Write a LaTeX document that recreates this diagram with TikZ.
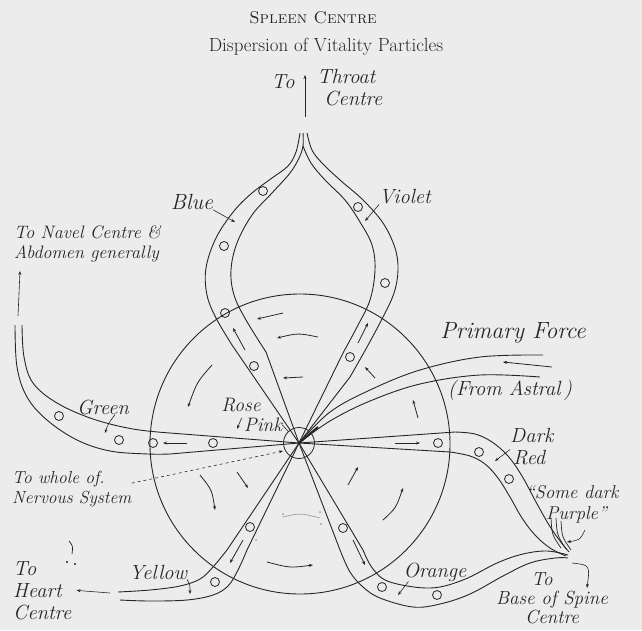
\documentclass[tikz,border=0pt]{standalone}
\usepackage{fontspec}
\usepackage{xcolor}
\usetikzlibrary{arrows.meta, calc}

\definecolor{paper}{HTML}{ECECEC}
\definecolor{ink}{HTML}{262626}

\begin{document}
\begin{tikzpicture}[
    x=1pt, y=-1pt,
    every node/.style={text=ink, inner sep=0pt},
    hand/.style={font=\fontsize{20.5}{22}\selectfont\itshape},
    phrase/.style={font=\fontsize{17.5}{20}\selectfont\itshape},
    chan/.style={draw=ink, line width=0.9pt},
    bead/.style={draw=ink, line width=0.8pt},
    flow/.style={-{Stealth[length=4pt, width=3pt]}, draw=ink, line width=0.8pt},
    lead/.style={-{Stealth[length=4pt, width=3pt]}, draw=ink, line width=0.6pt},
    faint/.style={draw=ink!45, line width=0.7pt},
]

% Paper
\fill[paper] (0,0) rectangle (642,630);
\useasboundingbox (0,0) rectangle (642,630);

% Title
\node[font=\fontsize{17}{19}\selectfont\scshape] (title) at (313,18) {Spleen Centre};
\node[font=\fontsize{19}{21}\selectfont] (subtitle) at (326,47) {Dispersion of Vitality Particles};

% Spleen disc and hub
\coordinate (spleen) at (299,443);
\draw[chan] (300,444) circle[radius=150pt];
\node[draw=ink, line width=0.8pt, circle, minimum size=31pt] (hub) at (spleen) {};
\draw[ink, line width=2pt] (spleen) -- (318,427);

% Blue channel
\draw[chan] (spleen) -- plot[smooth, tension=0.6] coordinates {(232,345) (216,318) (207,295) (206,268) (216,238) (234,211) (252,193) (272,178) (288,166) (296,152) (300,133)};
\draw[chan] (spleen) -- plot[smooth, tension=0.6] coordinates {(266,352) (246,320) (234,295) (231,270) (237,243) (252,215) (272,193) (290,173) (299,158) (303,146) (303,133)};

% Violet channel
\draw[chan] (spleen) -- plot[smooth, tension=0.6] coordinates {(350,377) (367,347) (383,317) (394,293) (398,270) (395,248) (383,223) (363,200) (340,180) (322,163) (312,150) (307,133)};
\draw[chan] (spleen) -- plot[smooth, tension=0.6] coordinates {(343,353) (357,327) (370,300) (375,270) (372,245) (360,222) (345,200) (325,180) (311,163) (303,146)};

% Green channel
\draw[chan] (spleen) -- plot[smooth, tension=0.6] coordinates {(170,433) (133,429) (93,419) (57,403) (33,383) (24,357) (22,325)};
\draw[chan] (spleen) -- plot[smooth, tension=0.6] coordinates {(170,454) (148,454) (110,451) (77,440) (47,420) (27,397) (17,367) (15,325)};

% Dark red channel
\draw[chan] (spleen) -- plot[smooth, tension=0.6] coordinates {(455,432) (475,434) (492,442) (508,456) (522,476) (536,502) (549,525) (560,541) (569,552)};
\draw[chan] (spleen) -- plot[smooth, tension=0.6] coordinates {(450,452) (470,456) (485,464) (498,478) (510,497) (522,518) (535,535) (550,548) (566,556)};

% Orange channel
\draw[chan] (spleen) -- plot[smooth, tension=0.6] coordinates {(340,550) (350,572) (363,587) (380,598) (413,607) (440,604) (470,594) (503,576) (530,563) (555,558) (568,558)};
\draw[chan] (spleen) -- plot[smooth, tension=0.6] coordinates {(363,550) (373,569) (390,582) (430,588) (463,580) (497,563) (523,554) (547,551) (568,555)};

% Yellow channel
\draw[chan] (spleen) -- plot[smooth, tension=0.6] coordinates {(227,550) (213,567) (200,579) (180,586) (150,590) (118,592)};
\draw[chan] (spleen) -- plot[smooth, tension=0.6] coordinates {(247,550) (238,570) (228,586) (213,595) (187,600) (150,601) (120,600)};

% Primary force
\draw[chan] plot[smooth, tension=0.6] coordinates {(543,355) (480,357) (420,370) (370,390) (330,412) (299,443)};
\draw[chan] plot[smooth, tension=0.6] coordinates {(540,377) (480,375) (420,384) (370,401) (330,421) (299,443)};

% Purple strands
\draw[chan, line width=0.7pt] (551,518) .. controls (552,535) .. (561,548);
\draw[chan, line width=0.7pt] (556,518) .. controls (557,535) .. (566,549);
\draw[chan, line width=0.7pt] (561,521) .. controls (562,537) .. (571,550);

% Vitality particles
\foreach \x/\y in {263/191, 224/246, 225/313, 254/366,
                   358/207, 385/283, 350/357,
                   213/443, 153/443, 119/440, 59/416,
                   438/443, 479/452, 509/479,
                   343/528, 382/587, 437/595,
                   250/527, 215/582} {
    \draw[bead] (\x,\y) circle[radius=4.5pt];
}

% Flow along channels
\draw[flow] (187,443) -- (163,443);
\draw[flow] (245,350) -- (233,328);
\draw[flow] (358,343) -- (368,323);
\draw[flow] (395,443) -- (420,443);
\draw[flow] (353,540) -- (365,565);
\draw[flow] (243,540) -- (230,563);
\draw[flow] (552,367) -- (503,362);

% Rotation inside disc
\draw[flow] (283,313) -- (257,319);
\draw[flow] (318,337) .. controls (298,333) .. (277,338);
\draw[flow] (303,377) -- (283,378);
\draw[flow] (212,365) .. controls (197,382) .. (188,407);
\draw[flow] (375,378) -- (365,367);
\draw[flow] (418,418) -- (413,400);
\draw[flow] (348,485) -- (358,467);
\draw[flow] (383,520) .. controls (396,508) .. (403,488);
\draw[flow] (267,562) .. controls (290,568) .. (313,565);
\draw[flow] (200,475) .. controls (212,490) .. (215,510);
\draw[flow] (237,472) -- (248,488);
\draw[faint] (283,517) .. controls (300,513) .. (320,518);
\fill[ink!45] (283,514) circle[radius=1pt] (320,512) circle[radius=1pt] (321,524) circle[radius=1pt] (256,540) circle[radius=1pt];

% Stray mark
\draw[ink, line width=0.7pt] (69,541) .. controls (73,546) .. (72,554);
\fill[ink] (67,562) circle[radius=1.2pt] (75,564) circle[radius=1.2pt];

% Colour labels
\node[hand, font=\fontsize{22}{24}\selectfont\itshape] (blue) at (192,202) {Blue};
\coordinate (bluetip) at (235,222);
\draw[lead] (blue.south east) -- (bluetip);

\node[hand] (violet) at (405,197) {Violet};
\coordinate (violettip) at (365,221);
\draw[lead] (violet.south west) -- (violettip);

\node[hand] (green) at (103,407) {Green};
\coordinate (greentip) at (105,433);
\draw[lead] ([xshift=12pt]green.south) .. controls (108,424) .. (greentip);

\node[hand, font=\fontsize{19.5}{21}\selectfont\itshape] (rose) at (241,405) {Rose};
\node[hand, font=\fontsize{19.5}{21}\selectfont\itshape] (pink) at (263,425) {Pink};
\coordinate (rosetip) at (237,429);
\draw[lead] ([xshift=-2pt]pink.north west) -- (rosetip);
\draw[ink, line width=0.6pt] (pink.east) -- (hub);

\node[hand, align=left, anchor=north west] (darkred) at (510,428) {Dark\\\hspace{3pt}Red};
\coordinate (redtip) at (495,461);
\draw[lead] ([yshift=-3pt]darkred.west) -- (redtip);

\node[hand, font=\fontsize{18.5}{21}\selectfont\itshape, align=left, anchor=north west] (purple) at (526,485) {“Some dark\\\hspace{20pt}Purple”};
\coordinate (purpletip) at (567,542);
\draw[lead] (585,530) .. controls (580,540) .. (purpletip);

\node[hand] (orange) at (435,572) {Orange};
\coordinate (orangetip) at (398,595);
\draw[lead] ([xshift=5pt]orange.south west) -- (orangetip);

\node[hand] (yellow) at (158,572) {Yellow};
\coordinate (yellowtip) at (190,594);
\draw[lead] (yellow.south east) .. controls (190,585) .. (yellowtip);

% Primary force
\node[font=\fontsize{23.5}{26}\selectfont\itshape] (primary) at (513,333) {Primary Force};
\node[hand] (astral) at (510,390) {(From Astral\,)};

% Destinations
\node[hand] (throatto) at (283,82) {To};
\node[hand, align=left, anchor=north west] (throat) at (317,69) {Throat\\\hspace{7pt}Centre};
\coordinate (throatfoot) at (305,117);
\coordinate (throathead) at (305,75);
\draw[lead] (throatfoot) -- (throathead);

\node[phrase, font=\fontsize{18}{20}\selectfont\itshape, align=left, anchor=north west] (navel) at (14,225) {To Navel Centre \&\\Abdomen generally};
\coordinate (navelfoot) at (18,316);
\coordinate (navelhead) at (20,271);
\draw[lead] (navelfoot) -- (navelhead);

\node[phrase, align=left, anchor=north west] (nerve) at (12,471) {To whole of.\\Nervous System};
\coordinate (nervetip) at (283,451);
\draw[lead, dashed] ([yshift=6pt]nerve.east) -- (nervetip);

\node[hand, align=left, anchor=north west] (heart) at (13,561) {To\\Heart\\Centre};
\coordinate (heartfoot) at (110,593);
\draw[lead] (heartfoot) -- ([xshift=5pt]heart.east);

\node[hand, font=\fontsize{19}{19}\selectfont\itshape, align=center, anchor=north] (spine) at (552,572) {\hspace{-20pt}To\\Base of Spine\\Centre};
\coordinate (spinefoot) at (572,563);
\coordinate (spinehead) at (587,588);
\draw[lead] (spinefoot) .. controls (590,565) .. (spinehead);

\end{tikzpicture}
\end{document}
